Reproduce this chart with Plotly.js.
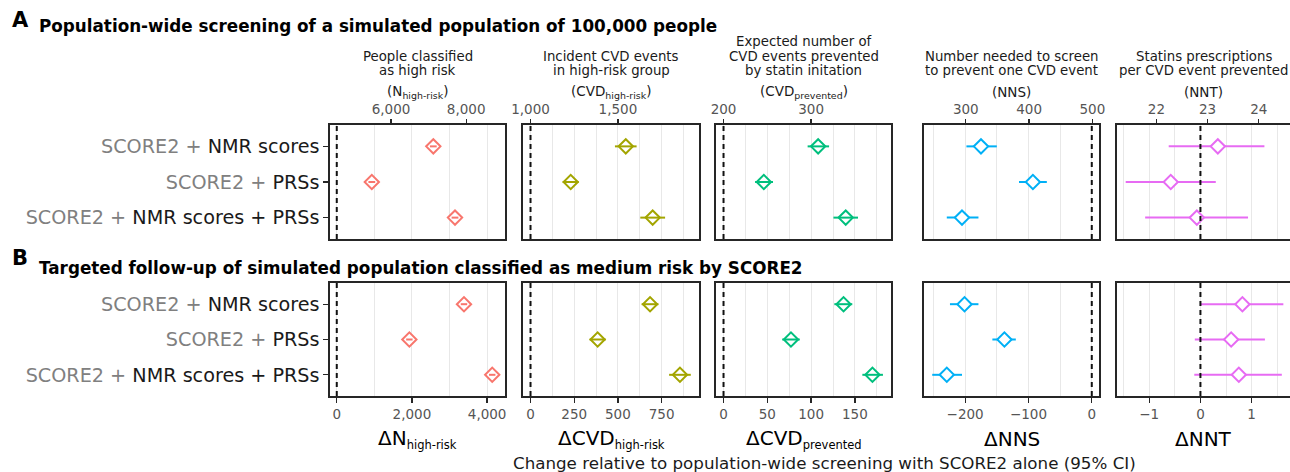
<!DOCTYPE html>
<html><head><meta charset="utf-8">
<script src="https://cdn.plot.ly/plotly-3.0.1.min.js"></script>
<style>html,body{margin:0;padding:0;background:#fff}#chart{width:1290px;height:472px}</style>
</head><body><div id="chart"></div>
<script>
// ---------------- DATA ----------------
const categories = ['SCORE2 + NMR scores', 'SCORE2 + PRSs', 'SCORE2 + NMR scores + PRSs'];

// A: population-wide screening (change vs SCORE2 alone)
const nHighRiskA_est = [2568, 932, 3145];
const nHighRiskA_lo  = [2478, 842, 3055];
const nHighRiskA_hi  = [2658, 1022, 3235];
const cvdHighRiskA_est = [545, 230, 699];
const cvdHighRiskA_lo  = [483, 184, 628];
const cvdHighRiskA_hi  = [607, 276, 770];
const cvdPreventedA_est = [108, 46, 139.5];
const cvdPreventedA_lo  = [96, 36, 125.5];
const cvdPreventedA_hi  = [120.5, 56.5, 153.5];
const nnsA_est = [-175, -93, -205];
const nnsA_lo  = [-198, -115, -229];
const nnsA_hi  = [-150, -71, -179];
const nntA_est = [0.34, -0.58, -0.07];
const nntA_lo  = [-0.62, -1.46, -1.08];
const nntA_hi  = [1.25, 0.30, 0.93];

// B: targeted follow-up of medium-risk group
const nHighRiskB_est = [3384, 1931, 4135];
const nHighRiskB_lo  = [3299, 1846, 4050];
const nHighRiskB_hi  = [3469, 2016, 4220];
const cvdHighRiskB_est = [684, 384, 855];
const cvdHighRiskB_lo  = [636, 338, 793];
const cvdHighRiskB_hi  = [732, 430, 917];
const cvdPreventedB_est = [137, 77, 170];
const cvdPreventedB_lo  = [126.5, 67, 158.5];
const cvdPreventedB_hi  = [147, 87, 182];
const nnsB_est = [-201, -138, -229];
const nnsB_lo  = [-224, -157, -252];
const nnsB_hi  = [-179, -120, -205];
const nntB_est = [0.82, 0.60, 0.75];
const nntB_lo  = [0.01, -0.11, -0.12];
const nntB_hi  = [1.62, 1.26, 1.59];

// Reference values under SCORE2 alone (secondary top axes = baseline + change)
const baselines = [4557, 1000, 200, 499, 22.86];

// Tick values
const bottomTicks = [[0, 2000, 4000], [0, 250, 500, 750], [0, 50, 100, 150], [-200, -100, 0], [-1, 0, 1]];
const minorGrid   = [[1000, 3000], [125, 375, 625, 875], [25, 75, 125, 175], [-250, -150, -50], [-1.5, -0.5, 0.5, 1.5]];
const topTicks    = [[6000, 8000], [1000, 1500], [200, 300], [300, 400, 500], [22, 23, 24]];
const refLine = 0;

// Text
const topTitles = [
  ['People classified', 'as high risk'],
  ['Incident CVD events', 'in high-risk group'],
  ['Expected number of', 'CVD events prevented', 'by statin initation'],
  ['Number needed to screen', 'to prevent one CVD event'],
  ['Statins prescriptions', 'per CVD event prevented']
];
const topSymbols = ['(N<sub>high-risk</sub>)', '(CVD<sub>high-risk</sub>)', '(CVD<sub>prevented</sub>)', '(NNS)', '(NNT)'];
const bottomTitles = [
  ['\u0394N', 'high-risk'], ['\u0394CVD', 'high-risk'], ['\u0394CVD', 'prevented'], ['\u0394NNS', ''], ['\u0394NNT', '']
];
const titleA = 'Population-wide screening of a simulated population of 100,000 people';
const titleB = 'Targeted follow-up of simulated population classified as medium risk by SCORE2';
const footer = 'Change relative to population-wide screening with SCORE2 alone (95% CI)';

const colors = ['#F8766D', '#A3A500', '#00BF7D', '#00B0F6', '#E76BF3'];

const seriesA = [
  [nHighRiskA_est, nHighRiskA_lo, nHighRiskA_hi],
  [cvdHighRiskA_est, cvdHighRiskA_lo, cvdHighRiskA_hi],
  [cvdPreventedA_est, cvdPreventedA_lo, cvdPreventedA_hi],
  [nnsA_est, nnsA_lo, nnsA_hi],
  [nntA_est, nntA_lo, nntA_hi]
];
const seriesB = [
  [nHighRiskB_est, nHighRiskB_lo, nHighRiskB_hi],
  [cvdHighRiskB_est, cvdHighRiskB_lo, cvdHighRiskB_hi],
  [cvdPreventedB_est, cvdPreventedB_lo, cvdPreventedB_hi],
  [nnsB_est, nnsB_lo, nnsB_hi],
  [nntB_est, nntB_lo, nntB_hi]
];

// ---------------- LAYOUT ----------------
const W = 1290, H = 472;
const FONT = 'DejaVu Sans, Liberation Sans, Arial, sans-serif';
const px = x => x / W;
const py = y => 1 - y / H;
const cols = [[330, 505], [523, 699], [716, 891], [924, 1099], [1117, 1290]];
const rows = [[125, 239], [283, 396]];
const ranges = [[-180, 4475], [-43, 964], [-8.6, 191.2], [-265, 11.4], [-1.63, 1.75]];

const traces = [];
const layout = {
  width: W, height: H,
  margin: {l: 0, r: 0, t: 0, b: 0},
  paper_bgcolor: '#fff', plot_bgcolor: '#fff',
  showlegend: false,
  font: {family: FONT, color: '#000'},
  shapes: [], annotations: []
};

const ticktextY = categories.map(c => c.replace('SCORE2 +', '<span style="color:#808080">SCORE2 +</span>'));

for (let r = 0; r < 2; r++) {
  const data = r === 0 ? seriesA : seriesB;
  for (let c = 0; c < 5; c++) {
    const k = r * 5 + c + 1;
    const xn = 'x' + (k === 1 ? '' : k), yn = 'y' + (k === 1 ? '' : k);
    const xk = 'xaxis' + (k === 1 ? '' : k), yk = 'yaxis' + (k === 1 ? '' : k);
    const [est, lo, hi] = data[c];
    const err = {
      type: 'data', symmetric: false,
      array: est.map((v, i) => hi[i] - v),
      arrayminus: est.map((v, i) => v - lo[i]),
      width: 0, thickness: 2, color: colors[c]
    };
    const marker = {symbol: 'diamond', size: 11, color: '#fff', line: {color: colors[c], width: 2}};
    if (c < 3) {
      traces.push({type: 'scatter', mode: 'markers', x: est, y: categories, xaxis: xn, yaxis: yn, marker, hoverinfo: 'x'});
      traces.push({type: 'scatter', mode: 'markers', x: est, y: categories, xaxis: xn, yaxis: yn,
        marker: {size: 1, color: 'rgba(0,0,0,0)'}, error_x: err, hoverinfo: 'skip'});
    } else {
      traces.push({type: 'scatter', mode: 'markers', x: est, y: categories, xaxis: xn, yaxis: yn, marker, error_x: err, hoverinfo: 'x'});
    }
    layout[xk] = {
      domain: [px(cols[c][0]), px(cols[c][1])],
      anchor: yn, range: ranges[c], fixedrange: true,
      showline: true, mirror: true, linecolor: '#262626', linewidth: 1.6,
      zeroline: false, showgrid: true, gridcolor: '#e8e8e8', gridwidth: 1,
      tickmode: 'array', tickvals: bottomTicks[c], tickformat: ',',
      ticks: r === 1 ? 'outside' : '', ticklen: 5, tickwidth: 1.3, tickcolor: '#262626',
      showticklabels: r === 1,
      tickfont: {family: FONT, size: 13.5, color: '#555'},
      minor: {tickmode: 'array', tickvals: minorGrid[c], showgrid: true, gridcolor: '#e8e8e8', gridwidth: 1, ticks: ''}
    };
    layout[yk] = {
      domain: [py(rows[r][1]), py(rows[r][0])],
      anchor: xn, type: 'category', range: [2.6, -0.6], fixedrange: true,
      showline: true, mirror: true, linecolor: '#262626', linewidth: 1.6,
      showgrid: false, zeroline: false,
      tickmode: 'array', tickvals: categories, ticktext: ticktextY,
      ticks: c === 0 ? 'outside' : '', ticklen: 5, tickwidth: 1.3, tickcolor: '#262626',
      showticklabels: c === 0,
      tickfont: {family: FONT, size: 19.2, color: '#1a1a1a'}
    };
    layout.shapes.push({type: 'line', xref: xn, yref: yn + ' domain', x0: refLine, x1: refLine, y0: 0, y1: 1,
      layer: 'above', line: {color: '#111', width: 2, dash: '5px,4px'}});
  }
}

// Secondary top axes (absolute values = baseline + change)
for (let c = 0; c < 5; c++) {
  const k = 11 + c;
  const base = c === 0 ? 'x' : 'x' + (c + 1);
  const yn = c === 0 ? 'y' : 'y' + (c + 1);
  layout['xaxis' + k] = {
    overlaying: base, anchor: yn, side: 'top',
    range: [ranges[c][0] + baselines[c], ranges[c][1] + baselines[c]], fixedrange: true,
    showline: false, zeroline: false, showgrid: false,
    tickmode: 'array', tickvals: topTicks[c], tickformat: ',',
    ticks: 'outside', ticklen: 5, tickwidth: 1.3, tickcolor: '#262626',
    tickfont: {family: FONT, size: 13.5, color: '#555'}
  };
  traces.push({type: 'scatter', mode: 'markers', x: [], y: [], xaxis: 'x' + k, yaxis: yn, hoverinfo: 'skip'});
}

// Annotations
const ann = (text, x, y, o) => Object.assign({text, x: px(x), y: py(y), xref: 'paper', yref: 'paper',
  showarrow: false, xanchor: 'center', yanchor: 'middle', font: {family: FONT, size: 13.5, color: '#000'}}, o || {});

for (let c = 0; c < 5; c++) {
  const cx = (cols[c][0] + cols[c][1]) / 2;
  const lines = topTitles[c];
  lines.forEach((t, i) => {
    layout.annotations.push(ann(t, cx, 71 - (lines.length - 1 - i) * 14.5, {font: {family: FONT, size: 13.3, color: '#1a1a1a'}}));
  });
  layout.annotations.push(ann(topSymbols[c], cx, 92, {font: {family: FONT, size: 13.5, color: '#1a1a1a'}}));
  const [main, sub] = bottomTitles[c];
  const txt = sub ? main + '<sub><span style="font-size:11.5px">' + sub + '</span></sub>' : main;
  layout.annotations.push(ann(txt, cx, 439, {font: {family: FONT, size: 20, color: '#000'}}));
}
layout.annotations.push(ann('<b>A</b>', 10, 20, {xanchor: 'left', font: {family: FONT, size: 21, color: '#000'}}));
layout.annotations.push(ann('<b>' + titleA + '</b>', 37, 26, {xanchor: 'left', font: {family: FONT, size: 16.8, color: '#000'}}));
layout.annotations.push(ann('<b>B</b>', 10, 258, {xanchor: 'left', font: {family: FONT, size: 21, color: '#000'}}));
layout.annotations.push(ann('<b>' + titleB + '</b>', 37, 268, {xanchor: 'left', font: {family: FONT, size: 16.8, color: '#000'}}));
layout.annotations.push(ann(footer, 824, 463, {font: {family: FONT, size: 16.7, color: '#1a1a1a'}}));

Plotly.newPlot('chart', traces, layout, {displayModeBar: false, staticPlot: true});
</script>
</body></html>
